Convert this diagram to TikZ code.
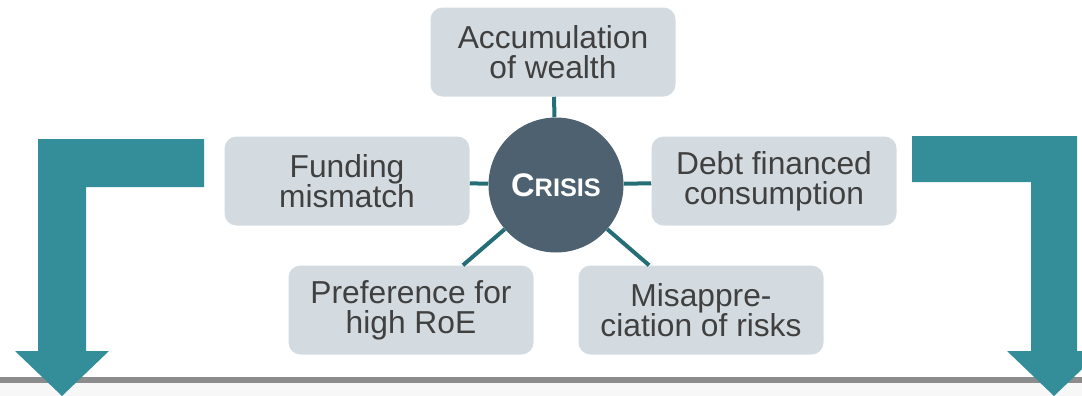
\documentclass[tikz,border=0pt]{standalone}
\usepackage{fontspec}
\usepackage{tikz}
\newfontfamily\boxfont{Liberation Sans}
\definecolor{arrowteal}{RGB}{52,142,154}
\definecolor{linkteal}{RGB}{38,110,118}
\definecolor{crisisfill}{RGB}{77,97,112}
\definecolor{boxfill}{RGB}{211,219,224}
\definecolor{boxtext}{RGB}{64,64,64}

\begin{document}
\begin{tikzpicture}[x=0.75pt,y=0.75pt,yscale=-1,xscale=1,
  factor/.style={fill=boxfill,rounded corners=9pt,minimum width=183.75pt,minimum height=66.75pt,
    inner sep=0pt,align=center,text=boxtext,font=\boxfont\fontsize{23.8pt}{22.5pt}\selectfont},
  link/.style={draw=linkteal,line width=3pt}]
\useasboundingbox (0,0) rectangle (1082,396);

%Bottom band
\fill [color={rgb, 255:red, 247; green, 247; blue, 247 }] (0,383) rectangle (1082,396);
\fill [color={rgb, 255:red, 140; green, 140; blue, 140 }] (0,377) rectangle (1082,383);

%Bent arrow left
\fill [arrowteal] (204,139) -- (38,139) -- (38,351) -- (15,351) -- (62,396) -- (109,351) -- (86,351) -- (86,187) -- (204,187) -- cycle;
%Bent arrow right
\fill [arrowteal] (912,136) -- (1077,136) -- (1077,351) -- (1101,351) -- (1054,396) -- (1007,351) -- (1031,351) -- (1031,182) -- (912,182) -- cycle;

% Crisis circle
\node [circle,fill=crisisfill,minimum size=101.25pt,inner sep=0pt,text=white] (crisis) at (556,185)
  {\boxfont\bfseries\fontsize{24.5pt}{22pt}\selectfont C\fontsize{19pt}{19pt}\selectfont RISIS};

% Text Node
\node [factor] (accum) at (553,52) {Accumulation\\of wealth};
% Text Node
\node [factor] (funding) at (347,181) {Funding\\mismatch};
% Text Node
\node [factor] (debt) at (774,181) {Debt financed\\consumption};
% Text Node
\node [factor] (pref) at (411,310) {Preference for\\high RoE};
% Text Node
\node [factor] (misapp) at (701,310) {Misappre-\\ciation of risks};

%Links
\draw [link] (crisis) -- (accum);
\draw [link] (crisis) -- (funding);
\draw [link] (crisis) -- (debt);
\draw [link] (crisis) -- (pref);
\draw [link] (crisis) -- (misapp);

\end{tikzpicture}
\end{document}
